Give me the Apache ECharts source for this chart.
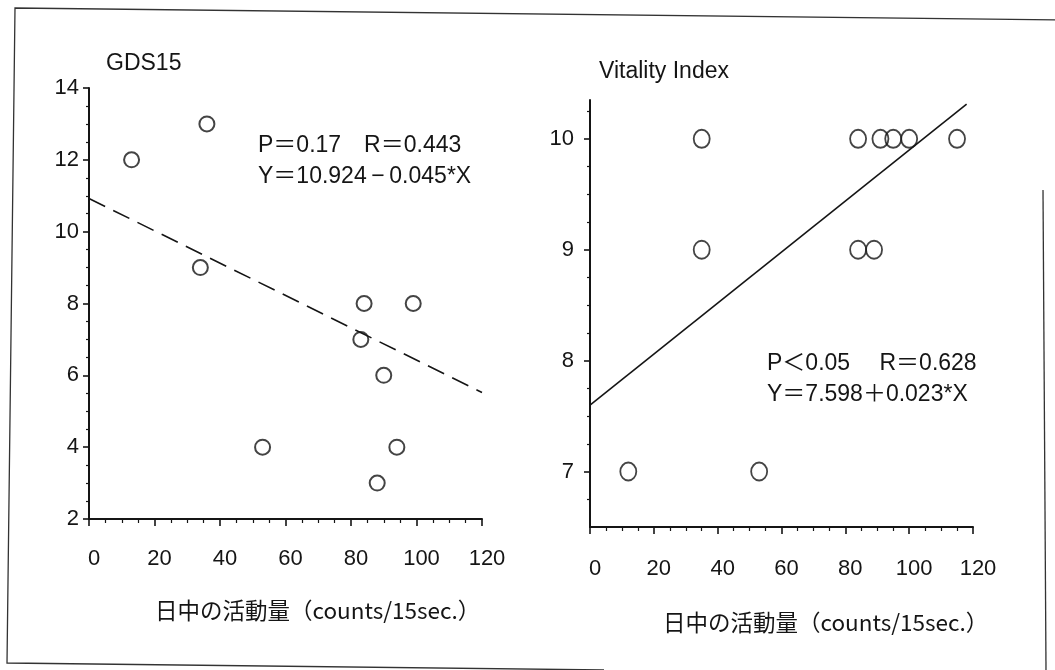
<!DOCTYPE html>
<html>
<head>
<meta charset="utf-8">
<script src="https://cdn.jsdelivr.net/npm/echarts@6/dist/echarts.min.js"></script>
<style>
  html, body { margin: 0; padding: 0; background: #fff; }
  #chart { width: 1055px; height: 670px; }
</style>
</head>
<body>
<div id="chart"></div>
<script>
// GDS15 vs daytime activity
const gdsActivity = [13, 36, 34, 84, 99, 83, 90, 53, 94, 88];
const gdsScore    = [12, 13, 9, 8, 8, 7, 6, 4, 4, 3];
const gdsFit = { intercept: 10.924, slope: -0.045, xFrom: 0, xTo: 120 };
const gdsStats = ['P＝0.17　R＝0.443', 'Y＝10.924\u2009\u2212\u20090.045*X'];

// Vitality Index vs daytime activity
const viActivity = [12, 35, 35, 53, 84, 84, 89, 91, 95, 100, 115];
const viScore    = [7, 10, 9, 7, 10, 9, 9, 10, 10, 10, 10];
const viFit = { intercept: 7.598, slope: 0.023, xFrom: 0, xTo: 118 };
const viStats = ['P＜0.05　 R＝0.628', 'Y＝7.598＋0.023*X'];

const xTitle = '日中の活動量（counts/15sec.）';
const gdsTitle = 'GDS15';
const viTitle = 'Vitality Index';

const viMajorTicks = [7, 8, 9, 10];
const viMinorTicks = [];
for (let v = 6.75; v < 10.3; v += 0.25) {
  if (Math.abs(v - Math.round(v)) > 1e-6) viMinorTicks.push(+v.toFixed(2));
}

const INK = '#151515';
const SANS = '"Liberation Sans", Arial, "Noto Sans CJK JP", sans-serif';
const CJK = '"Noto Sans CJK JP", sans-serif';

function fitLine(f) {
  return [[f.xFrom, f.intercept + f.slope * f.xFrom],
          [f.xTo, f.intercept + f.slope * f.xTo]];
}
function pairs(xs, ys) { return xs.map((x, i) => [x, ys[i]]); }

const xAxisBase = {
  type: 'value', min: 0, max: 120, interval: 20,
  axisLine: { lineStyle: { color: INK, width: 2 } },
  axisTick: { length: 7, lineStyle: { color: INK, width: 1.6 } },
  minorTick: { show: true, splitNumber: 4, length: 4, lineStyle: { color: INK, width: 1.2 } },
  splitLine: { show: false },
  axisLabel: { color: INK, fontSize: 22, fontFamily: SANS, margin: 29, padding: [0, 0, 0, 10] }
};

const chart = echarts.init(document.getElementById('chart'));
chart.setOption({
  animation: false,
  backgroundColor: '#fff',
  grid: [
    { left: 89, top: 88, width: 393, height: 431 },
    { left: 590, top: 100, width: 383, height: 427 }
  ],
  xAxis: [
    Object.assign({ gridIndex: 0 }, xAxisBase),
    Object.assign({ gridIndex: 1 }, xAxisBase, { axisLabel: Object.assign({}, xAxisBase.axisLabel, { margin: 31 }) })
  ],
  yAxis: [
    {
      gridIndex: 0, type: 'value', position: 'left', min: 2, max: 14, interval: 2,
      axisLine: { show: true, lineStyle: { color: INK, width: 2 } },
      axisTick: { show: true, length: 6, lineStyle: { color: INK, width: 1.6 } },
      minorTick: { show: true, splitNumber: 4, length: 3, lineStyle: { color: INK, width: 1.2 } },
      splitLine: { show: false },
      axisLabel: { color: INK, fontSize: 22, fontFamily: SANS, margin: 10 }
    },
    {
      gridIndex: 1, type: 'value', position: 'left', min: 6.5, max: 10.35,
      axisLine: { show: true, lineStyle: { color: INK, width: 2 } },
      axisTick: { show: true, length: 6, customValues: viMajorTicks, lineStyle: { color: INK, width: 1.6 } },
      splitLine: { show: false },
      axisLabel: { color: INK, fontSize: 22, fontFamily: SANS, margin: 16, customValues: viMajorTicks }
    },
    {
      // minor ticks of the Vitality Index axis
      gridIndex: 1, type: 'value', position: 'left', offset: 0, min: 6.5, max: 10.35,
      axisLine: { show: true, lineStyle: { color: INK, width: 0, opacity: 0 } },
      axisTick: { show: true, length: 3, customValues: viMinorTicks, lineStyle: { color: INK, width: 1.2 } },
      splitLine: { show: false },
      axisLabel: { show: true, color: 'rgba(0,0,0,0)', customValues: viMinorTicks, formatter: () => '' }
    }
  ],
  series: [
    {
      type: 'line', xAxisIndex: 0, yAxisIndex: 0, data: fitLine(gdsFit),
      showSymbol: false, silent: true,
      lineStyle: { color: INK, width: 1.6, type: [18, 9] }
    },
    {
      type: 'scatter', xAxisIndex: 0, yAxisIndex: 0, data: pairs(gdsActivity, gdsScore),
      symbol: 'circle', symbolSize: 15,
      itemStyle: { color: 'rgba(255,255,255,0)', borderColor: INK, borderWidth: 2 }
    },
    {
      type: 'line', xAxisIndex: 1, yAxisIndex: 1, data: fitLine(viFit),
      showSymbol: false, silent: true,
      lineStyle: { color: INK, width: 1.6 }
    },
    {
      type: 'scatter', xAxisIndex: 1, yAxisIndex: 1, data: pairs(viActivity, viScore),
      symbol: 'circle', symbolSize: [16, 18],
      itemStyle: { color: 'rgba(255,255,255,0)', borderColor: INK, borderWidth: 1.9 }
    },
    {
      // anchors the minor-tick axis to the Vitality Index grid
      type: 'scatter', xAxisIndex: 1, yAxisIndex: 2, data: [], silent: true
    }
  ],
  graphic: [
    // outer frame
    { type: 'polyline', silent: true, shape: { points: [[1058, 20], [15, 8], [7, 663], [604, 670]] },
      style: { fill: null, stroke: '#333', lineWidth: 1.3 } },
    { type: 'line', silent: true, shape: { x1: 1043, y1: 190, x2: 1046, y2: 670 },
      style: { stroke: '#333', lineWidth: 1.3 } },
    // axis headings
    { type: 'text', left: 106, top: 52, style: { text: gdsTitle, font: '23px ' + SANS, fill: INK } },
    { type: 'text', left: 599, top: 60, style: { text: viTitle, font: '23px ' + SANS, fill: INK } },
    // regression statistics
    { type: 'text', left: 258, top: 130, style: { text: gdsStats.join('\n'), font: '23px ' + SANS, fill: INK, lineHeight: 31 } },
    { type: 'text', left: 767, top: 348, style: { text: viStats.join('\n'), font: '23px ' + SANS, fill: INK, lineHeight: 31 } },
    // x-axis titles
    { type: 'text', left: 155, top: 599, style: { text: xTitle, font: '22.5px ' + CJK, fill: INK } },
    { type: 'text', left: 663, top: 611, style: { text: xTitle, font: '22.5px ' + CJK, fill: INK } }
  ]
});
</script>
</body>
</html>
